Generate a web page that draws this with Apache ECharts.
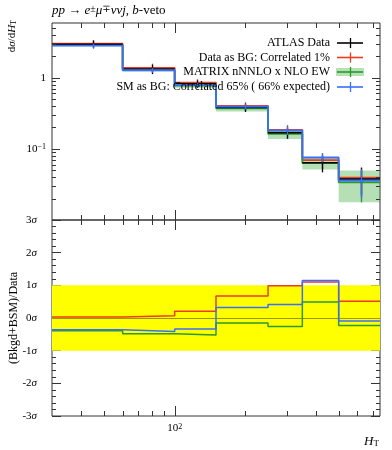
<!DOCTYPE html>
<html><head><meta charset="utf-8">
<script src="https://cdn.jsdelivr.net/npm/echarts@6/dist/echarts.min.js"></script>
<style>html,body{margin:0;padding:0;background:#fff}#c{width:392px;height:450px}</style>
</head><body><div id="c"></div>
<script>
// ---- data ----
const binEdges = [30, 60, 100, 150, 250, 350, 500, 750];
const binCenters = [45, 80, 125, 200, 300, 425, 625];
const atlasData = [2.94, 1.32, 0.816, 0.38, 0.169, 0.0637, 0.0375];
const atlasErr = [0.37, 0.2, 0.1, 0.05, 0.03, 0.017, 0.016];
const dataAsBG = [3.0, 1.37, 0.851, 0.401, 0.185, 0.0695, 0.0392];
const matrixPred = [2.87, 1.28, 0.772, 0.37, 0.162, 0.0631, 0.0337];
const matrixErr = [0.12, 0.06, 0.05, 0.035, 0.025, 0.012, 0.016];
const smAsBG = [2.81, 1.27, 0.79, 0.392, 0.181, 0.0755, 0.0359];
const smErr = [0.2, 0.1, 0.06, 0.035, 0.025, 0.011, 0.016];
const ratioDataBG = [0.03, 0.07, 0.21, 0.67, 0.99, 1.10, 0.51];
const ratioMatrix = [-0.39, -0.48, -0.52, -0.15, -0.26, 0.49, -0.23];
const ratioSM = [-0.36, -0.41, -0.34, 0.32, 0.41, 1.15, -0.09];
const seriesNames = ['ATLAS Data', 'Data as BG: Correlated 1%', 'MATRIX nNNLO x NLO EW', 'SM as BG: Correlated 65% ( 66% expected)'];
const xRange = [30, 750];
const yRangeTop = [0.01, 5.85];
const yRangeBottom = [-3, 3];
const sigmaBand = [-1, 1];
const xMajorTicks = [100];
const xMinorTicks = [40, 50, 60, 70, 80, 90, 200, 300, 400, 500, 600, 700];
const yMajorTicksTop = [0.1, 1];
const yMinorTicksTop = [0.02, 0.03, 0.04, 0.05, 0.06, 0.07, 0.08, 0.09, 0.2, 0.3, 0.4, 0.5, 0.6, 0.7, 0.8, 0.9, 2, 3, 4, 5];

// ---- styles ----
const SERIF = '"Liberation Serif", "DejaVu Serif", serif';
const RED = '#EE3A1E', GREEN = '#2A9A2A', BLUE = '#3870F8', BLACK = '#000';
const GREEN_BAND = 'rgba(60,170,60,0.38)';
const FRAME = '#333';

function stepData(vals) {
  return binEdges.map((e, i) => [e, vals[Math.min(i, vals.length - 1)]]);
}
function crisp(v) { return Math.round(v) + 0.5; }

function errRender(color, w) {
  return function (params, api) {
    const a = api.coord([api.value(0), api.value(1)]);
    const b = api.coord([api.value(0), api.value(2)]);
    const x = crisp(a[0]);
    return { type: 'line', shape: { x1: x, y1: a[1], x2: x, y2: b[1] }, style: { stroke: color, lineWidth: w } };
  };
}
function errData(vals, errs) {
  return binCenters.map((c, i) => [c, Math.max(vals[i] - errs[i], 1e-6), vals[i] + errs[i]]);
}
function xTickRender(params, api) {
  const cs = params.coordSys;
  const px = crisp(api.coord([api.value(0), api.value(1)])[0]);
  const L = api.value(2) ? 10 : 5;
  const st = { stroke: FRAME, lineWidth: 1 };
  return { type: 'group', children: [
    { type: 'line', shape: { x1: px, y1: cs.y, x2: px, y2: cs.y + L }, style: st },
    { type: 'line', shape: { x1: px, y1: cs.y + cs.height, x2: px, y2: cs.y + cs.height - L }, style: st }
  ] };
}
function yTickRender(params, api) {
  const cs = params.coordSys;
  const py = crisp(api.coord([api.value(0), api.value(1)])[1]);
  const L = api.value(2) ? 8 : 4;
  const st = { stroke: FRAME, lineWidth: 1 };
  return { type: 'group', children: [
    { type: 'line', shape: { x1: cs.x, y1: py, x2: cs.x + L, y2: py }, style: st },
    { type: 'line', shape: { x1: cs.x + cs.width, y1: py, x2: cs.x + cs.width - L, y2: py }, style: st }
  ] };
}

const chart = echarts.init(document.getElementById('c'), null, { renderer: 'canvas' });

const series = [];
// top panel
series.push({ type: 'custom', name: 'matrixBand', xAxisIndex: 0, yAxisIndex: 0, silent: true, z: 1,
  data: matrixPred.map((v, i) => [binEdges[i], binEdges[i + 1], v - matrixErr[i], v + matrixErr[i]]),
  encode: { x: [0, 1], y: [2, 3] },
  renderItem: function (params, api) {
    const p0 = api.coord([api.value(0), api.value(3)]);
    const p1 = api.coord([api.value(1), api.value(2)]);
    return { type: 'rect', shape: { x: p0[0], y: p0[1], width: p1[0] - p0[0], height: p1[1] - p0[1] }, style: { fill: GREEN_BAND } };
  } });
series.push({ type: 'custom', name: 'redErr', xAxisIndex: 0, yAxisIndex: 0, silent: true, z: 2,
  data: errData(dataAsBG, atlasErr), encode: { x: 0, y: [1, 2] }, renderItem: errRender(RED, 1.3) });
series.push({ type: 'line', name: seriesNames[1], xAxisIndex: 0, yAxisIndex: 0, step: 'end', symbol: 'none', z: 3,
  data: stepData(dataAsBG), lineStyle: { color: RED, width: 1.8 } });
series.push({ type: 'line', name: seriesNames[2], xAxisIndex: 0, yAxisIndex: 0, step: 'end', symbol: 'none', z: 3,
  data: stepData(matrixPred), lineStyle: { color: GREEN, width: 1.8 } });
series.push({ type: 'custom', name: 'greenErr', xAxisIndex: 0, yAxisIndex: 0, silent: true, z: 3,
  data: errData(matrixPred, matrixErr), encode: { x: 0, y: [1, 2] }, renderItem: errRender(GREEN, 1.3) });
series.push({ type: 'custom', name: seriesNames[0], xAxisIndex: 0, yAxisIndex: 0, silent: true, z: 4,
  data: atlasData.map((v, i) => [binEdges[i], binEdges[i + 1], v]), encode: { x: [0, 1], y: 2 },
  renderItem: function (params, api) {
    const a = api.coord([api.value(0), api.value(2)]);
    const b = api.coord([api.value(1), api.value(2)]);
    return { type: 'line', shape: { x1: a[0], y1: a[1], x2: b[0], y2: b[1] }, style: { stroke: BLACK, lineWidth: 1.6 } };
  } });
series.push({ type: 'custom', name: 'dataErr', xAxisIndex: 0, yAxisIndex: 0, silent: true, z: 4,
  data: errData(atlasData, atlasErr), encode: { x: 0, y: [1, 2] }, renderItem: errRender(BLACK, 1.3) });
series.push({ type: 'line', name: seriesNames[3], xAxisIndex: 0, yAxisIndex: 0, step: 'end', symbol: 'none', z: 5,
  data: stepData(smAsBG), lineStyle: { color: BLUE, width: 1.8 } });
series.push({ type: 'custom', name: 'blueErr', xAxisIndex: 0, yAxisIndex: 0, silent: true, z: 5,
  data: errData(smAsBG, smErr), encode: { x: 0, y: [1, 2] }, renderItem: errRender(BLUE, 1.3) });
series.push({ type: 'custom', name: 'xTicksTop', xAxisIndex: 0, yAxisIndex: 0, silent: true, z: 6,
  data: xMajorTicks.map(v => [v, 1, 1]).concat(xMinorTicks.map(v => [v, 1, 0])), encode: { x: 0, y: 1 }, renderItem: xTickRender });
series.push({ type: 'custom', name: 'yTicksTop', xAxisIndex: 0, yAxisIndex: 0, silent: true, z: 6,
  data: yMajorTicksTop.map(v => [100, v, 1]).concat(yMinorTicksTop.map(v => [100, v, 0])), encode: { x: 0, y: 1 }, renderItem: yTickRender });

// bottom panel
series.push({ type: 'custom', name: 'sigmaBand', xAxisIndex: 1, yAxisIndex: 1, silent: true, z: 1,
  data: [[xRange[0], xRange[1], sigmaBand[0], sigmaBand[1]]], encode: { x: [0, 1], y: [2, 3] },
  renderItem: function (params, api) {
    const p0 = api.coord([api.value(0), api.value(3)]);
    const p1 = api.coord([api.value(1), api.value(2)]);
    const z0 = api.coord([api.value(0), 0]);
    const z1 = api.coord([api.value(1), 0]);
    return { type: 'group', children: [
      { type: 'rect', shape: { x: p0[0], y: p0[1], width: p1[0] - p0[0], height: p1[1] - p0[1] }, style: { fill: '#FFFF00' } },
      { type: 'line', shape: { x1: z0[0], y1: crisp(z0[1]), x2: z1[0], y2: crisp(z1[1]) }, style: { stroke: 'rgba(0,0,0,0.4)', lineWidth: 1 } }
    ] };
  } });
series.push({ type: 'line', name: 'ratioRed', xAxisIndex: 1, yAxisIndex: 1, step: 'end', symbol: 'none', z: 3,
  data: stepData(ratioDataBG), lineStyle: { color: RED, width: 1.5 } });
series.push({ type: 'line', name: 'ratioGreen', xAxisIndex: 1, yAxisIndex: 1, step: 'end', symbol: 'none', z: 3,
  data: stepData(ratioMatrix), lineStyle: { color: GREEN, width: 1.5 } });
series.push({ type: 'line', name: 'ratioBlue', xAxisIndex: 1, yAxisIndex: 1, step: 'end', symbol: 'none', z: 4,
  data: stepData(ratioSM), lineStyle: { color: BLUE, width: 1.5 } });
series.push({ type: 'custom', name: 'xTicksBottom', xAxisIndex: 1, yAxisIndex: 1, silent: true, z: 6,
  data: xMajorTicks.map(v => [v, 0, 1]).concat(xMinorTicks.map(v => [v, 0, 0])), encode: { x: 0, y: 1 }, renderItem: xTickRender });

const legendY = [43, 57.5, 72, 87];
const legendColors = [BLACK, RED, GREEN, BLUE];
const graphics = [];
seriesNames.forEach((n, i) => {
  const y = legendY[i];
  graphics.push({ type: 'text', x: 330, y: y, z: 20, style: { text: n, font: '12px ' + SERIF, fill: '#000', align: 'right', verticalAlign: 'middle', textAlign: 'right', textVerticalAlign: 'middle' } });
  if (i === 2) graphics.push({ type: 'rect', z: 19, shape: { x: 336, y: y - 4, width: 28, height: 8 }, style: { fill: GREEN_BAND } });
  graphics.push({ type: 'line', z: 20, shape: { x1: 337, y1: y, x2: 363, y2: y }, style: { stroke: legendColors[i], lineWidth: 1.6 } });
  graphics.push({ type: 'line', z: 20, shape: { x1: 350.5, y1: y - 5, x2: 350.5, y2: y + 5 }, style: { stroke: legendColors[i], lineWidth: 1.3 } });
});
graphics.push({ type: 'text', x: 52, y: 11, z: 20, style: {
  text: '{i|pp} → {i|e}{s|±}{i|μ}{s|∓}{i|ννj}, {i|b}-veto', font: '13px ' + SERIF, fill: '#000', verticalAlign: 'middle', textVerticalAlign: 'middle',
  rich: { i: { fontStyle: 'italic', fontFamily: SERIF, fontSize: 13 }, s: { fontSize: 10, fontFamily: SERIF, verticalAlign: 'top' } } } });
graphics.push({ type: 'text', x: 12, y: 20, rotation: Math.PI / 2, z: 20, style: {
  text: 'd{i|σ}/d{i|H}{sub|T}', font: '11px ' + SERIF, fill: '#000', align: 'right', textAlign: 'right', verticalAlign: 'middle', textVerticalAlign: 'middle',
  rich: { i: { fontStyle: 'italic', fontFamily: SERIF, fontSize: 11 }, sub: { fontSize: 8, fontFamily: SERIF, verticalAlign: 'bottom' } } } });
graphics.push({ type: 'text', x: 14, y: 318, rotation: Math.PI / 2, z: 20, style: {
  text: '(Bkgd+BSM)/Data', font: '12px ' + SERIF, fill: '#000', align: 'center', textAlign: 'center', verticalAlign: 'middle', textVerticalAlign: 'middle' } });
graphics.push({ type: 'text', x: 379, y: 442, z: 20, style: {
  text: '{i|H}{sub|T}', font: '12px ' + SERIF, fill: '#000', align: 'right', textAlign: 'right', verticalAlign: 'middle', textVerticalAlign: 'middle',
  rich: { i: { fontStyle: 'italic', fontFamily: SERIF, fontSize: 13 }, sub: { fontSize: 9, fontFamily: SERIF, verticalAlign: 'bottom' } } } });

const hiddenAxisParts = { axisLine: { show: false }, axisTick: { show: false }, splitLine: { show: false } };

chart.setOption({
  animation: false,
  backgroundColor: '#fff',
  grid: [
    { left: 52, top: 23, width: 328, height: 197, show: true, borderColor: FRAME, borderWidth: 1, backgroundColor: 'transparent', containLabel: false },
    { left: 52, top: 220, width: 328, height: 196, show: true, borderColor: FRAME, borderWidth: 1, backgroundColor: 'transparent', containLabel: false }
  ],
  xAxis: [
    Object.assign({ type: 'log', logBase: 10, gridIndex: 0, min: xRange[0], max: xRange[1], axisLabel: { show: false } }, hiddenAxisParts),
    Object.assign({ type: 'log', logBase: 10, gridIndex: 1, min: xRange[0], max: xRange[1],
      axisLabel: { show: true, margin: 7, showMinLabel: false, showMaxLabel: false,
        formatter: v => Math.abs(v - 100) < 1e-6 ? '{b|10}{s|2}' : '',
        rich: { b: { fontFamily: SERIF, fontSize: 11, color: '#000' }, s: { fontFamily: SERIF, fontSize: 8, color: '#000', verticalAlign: 'top' } } } }, hiddenAxisParts)
  ],
  yAxis: [
    Object.assign({ type: 'log', logBase: 10, gridIndex: 0, min: yRangeTop[0], max: yRangeTop[1],
      axisLabel: { show: true, margin: 6, showMinLabel: false, showMaxLabel: false,
        formatter: v => Math.abs(v - 1) < 1e-9 ? '{b|1}' : (Math.abs(v - 0.1) < 1e-9 ? '{b|10}{s|−1}' : ''),
        rich: { b: { fontFamily: SERIF, fontSize: 11, color: '#000' }, s: { fontFamily: SERIF, fontSize: 8, color: '#000', verticalAlign: 'top' } } } }, hiddenAxisParts),
    { type: 'value', gridIndex: 1, min: yRangeBottom[0], max: yRangeBottom[1], interval: 1,
      axisLine: { show: false }, splitLine: { show: false },
      axisTick: { show: true, inside: true, length: 9, lineStyle: { color: FRAME } },
      minorTick: { show: true, splitNumber: 5, length: 4, lineStyle: { color: FRAME } },
      axisLabel: { show: true, margin: 15, formatter: v => '{n|' + v + '}{s|σ}',
        rich: { n: { fontFamily: SERIF, fontSize: 11, color: '#000' }, s: { fontFamily: SERIF, fontSize: 11, fontStyle: 'italic', color: '#000' } } } },
    { type: 'value', gridIndex: 1, position: 'right', min: yRangeBottom[0], max: yRangeBottom[1], interval: 1,
      axisLine: { show: false }, splitLine: { show: false },
      axisTick: { show: true, inside: true, length: 9, lineStyle: { color: FRAME } },
      minorTick: { show: true, splitNumber: 5, length: 4, lineStyle: { color: FRAME } },
      axisLabel: { show: false } }
  ],
  series: series,
  graphic: { elements: graphics }
});
</script></body></html>
